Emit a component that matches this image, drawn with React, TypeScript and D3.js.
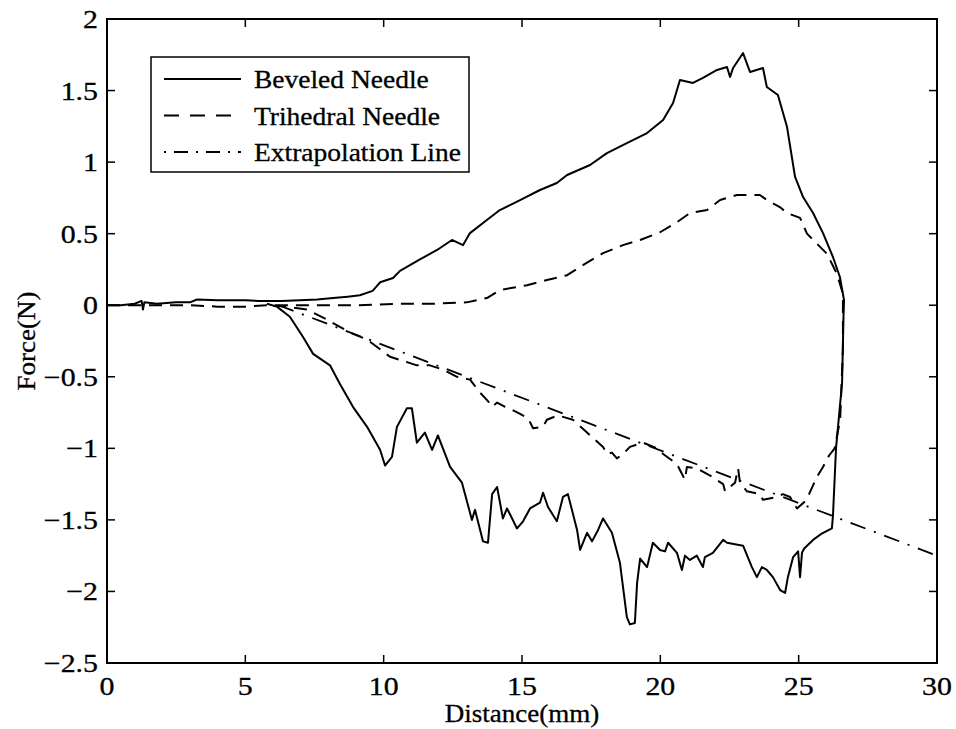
import React from 'react';
import * as d3 from 'd3';

// values
const beveledX = [0, 0.5, 1.0, 1.25, 1.3, 1.35, 1.8, 2.5, 3.0, 3.25, 4.0, 5.0, 5.5, 6.3, 6.97, 7.6, 8.17, 8.7, 9.14, 9.6, 9.87, 10.34, 10.59, 11.31, 11.93, 12.47, 12.87, 13.12, 13.73, 14.2, 14.93, 15.65, 16.26, 16.63, 17.46, 18.07, 18.79, 19.52, 20.1, 20.46, 20.71, 21.18, 21.54, 22.05, 22.41, 22.52, 22.63, 22.99, 23.24, 23.71, 23.85, 24.25, 24.58, 24.87, 25.16, 25.52, 25.88, 26.24, 26.49, 26.64, 26.62, 26.57, 26.35, 26.24, 26.2, 25.8, 25.52, 25.2, 25.12, 25.05, 24.98, 24.8, 24.61, 24.51, 24.33, 24.07, 23.85, 23.67, 23.49, 23.31, 22.99, 22.41, 22.27, 21.9, 21.61, 21.54, 21.32, 21.07, 20.89, 20.78, 20.6, 20.28, 20.17, 19.99, 19.73, 19.52, 19.27, 19.16, 19.08, 18.9, 18.79, 18.54, 18.25, 17.93, 17.75, 17.53, 17.35, 17.1, 16.99, 16.66, 16.48, 16.26, 15.94, 15.76, 15.65, 15.29, 15.04, 14.82, 14.46, 14.31, 14.1, 13.92, 13.77, 13.59, 13.3, 13.19, 12.83, 12.4, 11.96, 11.75, 11.49, 11.2, 11.02, 10.84, 10.48, 10.3, 10.05, 9.87, 9.4, 8.89, 8.42, 8.06, 7.45, 7.08, 6.61, 6.14, 5.78];
const beveledY = [0, 0.0, 0.01, 0.03, -0.03, 0.02, 0.01, 0.02, 0.02, 0.04, 0.035, 0.035, 0.03, 0.03, 0.035, 0.04, 0.05, 0.06, 0.07, 0.1, 0.16, 0.19, 0.24, 0.32, 0.386, 0.456, 0.42, 0.504, 0.595, 0.665, 0.735, 0.805, 0.854, 0.91, 0.98, 1.063, 1.133, 1.203, 1.294, 1.413, 1.574, 1.553, 1.588, 1.644, 1.665, 1.595, 1.658, 1.762, 1.63, 1.658, 1.525, 1.469, 1.245, 0.896, 0.756, 0.644, 0.504, 0.337, 0.197, 0.036, -0.08, -0.54, -1.0, -1.47, -1.56, -1.6, -1.64, -1.7, -1.73, -1.9, -1.72, -1.76, -1.9, -2.01, -1.99, -1.9, -1.85, -1.83, -1.9, -1.83, -1.68, -1.66, -1.64, -1.73, -1.76, -1.83, -1.75, -1.78, -1.75, -1.85, -1.73, -1.66, -1.72, -1.71, -1.66, -1.83, -1.77, -1.94, -2.22, -2.23, -2.18, -1.8, -1.59, -1.49, -1.57, -1.65, -1.59, -1.71, -1.57, -1.32, -1.34, -1.51, -1.41, -1.31, -1.38, -1.42, -1.51, -1.56, -1.42, -1.49, -1.27, -1.32, -1.66, -1.65, -1.43, -1.5, -1.24, -1.13, -0.91, -1.01, -0.89, -0.96, -0.72, -0.72, -0.85, -1.06, -1.12, -1.01, -0.85, -0.71, -0.55, -0.42, -0.34, -0.22, -0.08, -0.01, 0.01];

const trihedralX = [0, 1, 2, 3, 4, 5, 5.8, 7, 8, 9, 10.59, 11.78, 13.0, 13.73, 14.2, 15.18, 15.9, 16.63, 17.2, 17.93, 18.65, 19.27, 19.99, 20.6, 21.07, 21.69, 22.16, 22.77, 23.13, 23.6, 23.85, 24.32, 24.58, 25.05, 25.3, 25.66, 26.02, 26.38, 26.6, 26.6, 26.5, 26.3, 26.1, 25.88, 25.66, 25.4, 25.23, 24.94, 24.69, 24.43, 24.22, 23.71, 23.6, 23.13, 22.88, 22.81, 22.7, 22.34, 22.27, 21.8, 21.32, 20.96, 20.89, 20.6, 20.1, 19.88, 19.37, 18.9, 18.65, 18.43, 18.25, 18.07, 17.93, 17.35, 16.84, 16.48, 16.3, 15.9, 15.76, 15.4, 15.22, 14.93, 14.64, 14.39, 14.1, 13.92, 13.77, 13.48, 13.12, 12.65, 12.14, 11.67, 11.2, 10.23, 9.4, 8.89, 8.17, 7.95, 7.23, 6.5, 5.8];
const trihedralY = [0, 0, 0, 0, -0.01, -0.01, 0, 0, 0, 0, 0.01, 0.01, 0.02, 0.05, 0.106, 0.14, 0.176, 0.21, 0.28, 0.364, 0.42, 0.456, 0.51, 0.58, 0.644, 0.665, 0.735, 0.77, 0.77, 0.77, 0.735, 0.686, 0.644, 0.61, 0.5, 0.43, 0.36, 0.22, 0.08, -0.3, -0.8, -1.0, -1.05, -1.13, -1.2, -1.31, -1.37, -1.42, -1.34, -1.32, -1.34, -1.36, -1.32, -1.3, -1.24, -1.14, -1.24, -1.3, -1.25, -1.19, -1.14, -1.13, -1.22, -1.11, -1.04, -1.0, -0.96, -0.99, -1.04, -1.07, -1.03, -1.04, -0.99, -0.89, -0.8, -0.78, -0.77, -0.8, -0.85, -0.86, -0.79, -0.76, -0.73, -0.71, -0.68, -0.71, -0.67, -0.61, -0.52, -0.5, -0.45, -0.42, -0.42, -0.36, -0.24, -0.2, -0.125, -0.1, -0.03, -0.01, 0];

const extrapX = [6.2, 30];
const extrapY = [0, -1.75];

const xTicks = [0, 5, 10, 15, 20, 25, 30];
const yTicks = [-2.5, -2, -1.5, -1, -0.5, 0, 0.5, 1, 1.5, 2];

const legendLabels = ['Beveled Needle', 'Trihedral Needle', 'Extrapolation Line'];

const W = 956, H = 729;
const left = 107, right = 937, top = 19, bottom = 663;
const FONT = '"Liberation Serif", "Times New Roman", serif';

const x = d3.scaleLinear().domain([0, 30]).range([left, right]);
const y = d3.scaleLinear().domain([-2.5, 2]).range([bottom, top]);

const line = d3.line<[number, number]>()
    .x(d => x(d[0]))
    .y(d => y(d[1]));

const zip = (xs: number[], ys: number[]) => xs.map((v, i) => [v, ys[i]] as [number, number]);

const fmt = (v: number) => (v < 0 ? '\u2212' : '') + String(Math.abs(v));

const dashes = ['none', '13,8', '16,9,2,9'];
const legendDashes = ['none', '15,11', '2,8,14,8'];

// the scanned type is a bit wider than Times, so stretch it sideways
function Label({ x, y, sx = 1.1, size = 26, anchor = 'start', rot = 0, children }: any) {
    return (
        <text transform={`translate(${x},${y}) rotate(${rot}) scale(${sx},1)`}
            textAnchor={anchor} fontSize={size} stroke="#000" strokeWidth={0.3}>{children}</text>
    );
}

export default function App() {
    const series = [zip(beveledX, beveledY), zip(trihedralX, trihedralY), zip(extrapX, extrapY)];
    const tk = 8;

    return (
        <svg width={W} height={H} style={{ position: 'absolute', left: 0, top: 0, background: '#fff' }}
            fontFamily={FONT}>
            <rect x={0} y={0} width={W} height={H} fill="#fff" />

            {series.map((s, i) => (
                <path key={i} d={line(s) || ''} fill="none" stroke="#000"
                    strokeWidth={i === 2 ? 1.8 : 2} strokeDasharray={dashes[i]}
                    strokeLinejoin="round" />
            ))}

            {/* frame */}
            <rect x={left} y={top} width={right - left} height={bottom - top}
                fill="none" stroke="#000" strokeWidth={2} />

            {xTicks.map(t => (
                <g key={'x' + t}>
                    <line x1={x(t)} x2={x(t)} y1={bottom} y2={bottom - tk} stroke="#000" strokeWidth={1.5} />
                    <line x1={x(t)} x2={x(t)} y1={top} y2={top + tk} stroke="#000" strokeWidth={1.5} />
                    <Label x={x(t)} y={695} anchor="middle" sx={1.15}>{t}</Label>
                </g>
            ))}

            {yTicks.map(t => (
                <g key={'y' + t}>
                    <line x1={left} x2={left + tk} y1={y(t)} y2={y(t)} stroke="#000" strokeWidth={1.5} />
                    <line x1={right} x2={right - tk} y1={y(t)} y2={y(t)} stroke="#000" strokeWidth={1.5} />
                    <Label x={98} y={y(t) + 9} anchor="end" sx={1.15}>{fmt(t)}</Label>
                </g>
            ))}

            <Label x={(left + right) / 2} y={722} anchor="middle" sx={1.04}>Distance(mm)</Label>
            <Label x={35} y={(top + bottom) / 2} anchor="middle" rot={-90} sx={1.04}>Force(N)</Label>

            {/* legend */}
            <rect x={151} y={57} width={318} height={115} fill="#fff" stroke="#000" strokeWidth={1.5} />
            {legendLabels.map((lab, i) => {
                const ly = 79 + i * 36.5;
                return (
                    <g key={lab}>
                        <line x1={164} x2={241} y1={ly} y2={ly} stroke="#000" strokeWidth={2}
                            strokeDasharray={legendDashes[i]} />
                        <Label x={254} y={ly + 9} size={25} sx={1.1}>{lab}</Label>
                    </g>
                );
            })}
        </svg>
    );
}
